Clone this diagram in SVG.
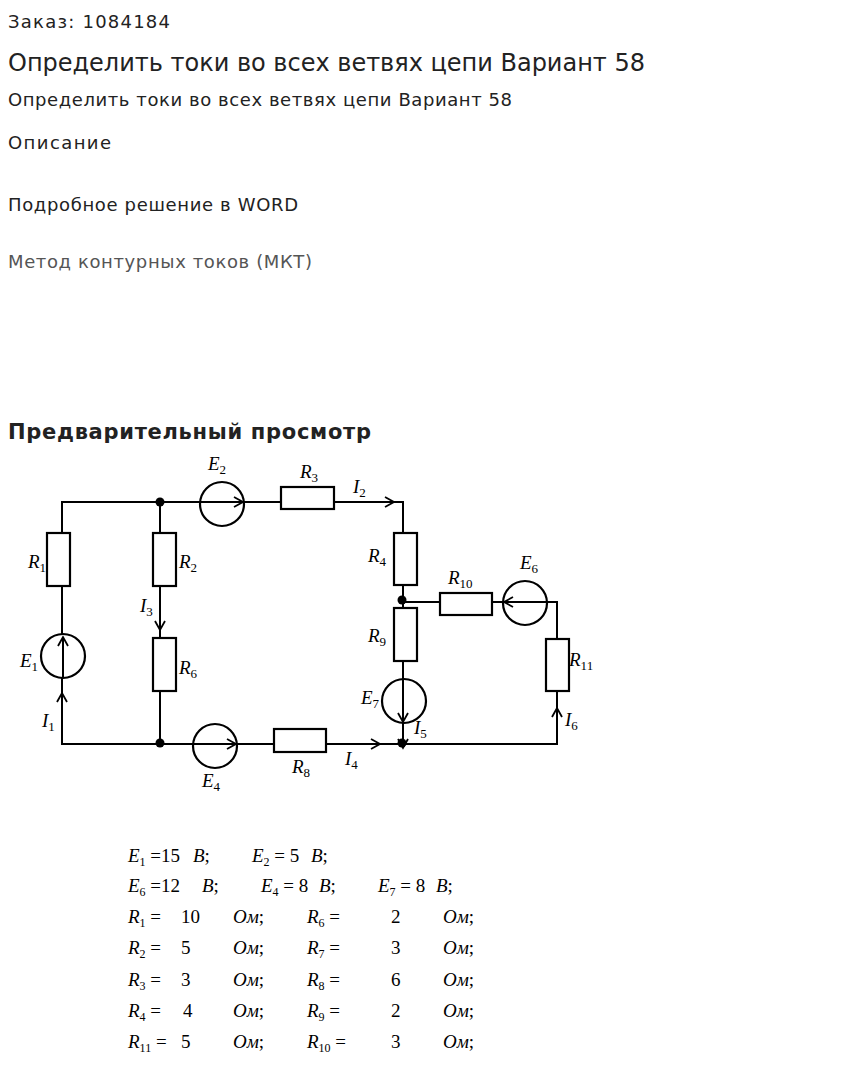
<svg xmlns="http://www.w3.org/2000/svg" width="847" height="1070" viewBox="0 0 847 1070">
<style>
.h{font-family:"DejaVu Sans",sans-serif;fill:#222}
.w{stroke:#000;stroke-width:2;fill:none}
.r{stroke:#000;stroke-width:2.2;fill:#fff}
.l{font-family:"Liberation Serif",serif;font-style:italic;font-size:19px;fill:#000}
.l tspan{font-style:normal}
.t{font-family:"Liberation Serif",serif;font-size:19px;fill:#000}
.i{font-style:italic}
</style>
<defs>
<marker id="a" markerWidth="12" markerHeight="12" refX="10" refY="6" orient="auto" markerUnits="userSpaceOnUse"><path d="M1,1 L10,6 L1,11" fill="none" stroke="#000" stroke-width="1.8"/></marker>
</defs>
<rect width="847" height="1070" fill="#fff"/>
<text class="h" x="8" y="28" font-size="18" textLength="162" lengthAdjust="spacing">Заказ: 1084184</text>
<text class="h" x="8" y="71" font-size="24" textLength="637" lengthAdjust="spacing">Определить токи во всех ветвях цепи Вариант 58</text>
<text class="h" x="8" y="106" font-size="18" textLength="504" lengthAdjust="spacing">Определить токи во всех ветвях цепи Вариант 58</text>
<text class="h" x="8" y="149" font-size="18" textLength="103" lengthAdjust="spacing">Описание</text>
<text class="h" x="8" y="211" font-size="18" textLength="290" lengthAdjust="spacing">Подробное решение в WORD</text>
<text class="h" x="8" y="268" font-size="18" style="fill:#555" textLength="304" lengthAdjust="spacing">Метод контурных токов (МКТ)</text>
<text class="h" x="8" y="439" font-size="21" font-weight="bold" textLength="363" lengthAdjust="spacing">Предварительный просмотр</text>

<g id="connectors">
<path class="w" d="M62,586 V744 H557 V691 M557,639 V602 H492 M440,602 H402 M62,533 V502 H403 V533 M403,585 V608 M403,661 V744 M160,502 V533 M160,586 V638 M160,691 V744"/>
<path class="w" d="M62,744 V693" marker-end="url(#a)"/>
<path class="w" d="M160,600 V630" marker-end="url(#a)"/>
<path class="w" d="M350,502 H394" marker-end="url(#a)"/>
<path class="w" d="M340,744 H380" marker-end="url(#a)"/>
<path class="w" d="M557,740 V708" marker-end="url(#a)"/>
<path class="w" d="M403,725 V748" marker-end="url(#a)"/>
<circle cx="160" cy="502" r="4.5"/><circle cx="160" cy="743" r="4.5"/><circle cx="402" cy="600" r="4.5"/><circle cx="402" cy="743" r="4.5"/>
</g>
<g id="R1"><rect class="r" x="47" y="533" width="23" height="53"/><text class="l" x="28" y="568">R<tspan font-size="13" dy="4">1</tspan></text></g>
<g id="R2"><rect class="r" x="153" y="533" width="23" height="53"/><text class="l" x="179" y="568">R<tspan font-size="13" dy="4">2</tspan></text></g>
<g id="R6"><rect class="r" x="153" y="638" width="23" height="53"/><text class="l" x="179" y="674">R<tspan font-size="13" dy="4">6</tspan></text></g>
<g id="R3"><rect class="r" x="281" y="487" width="53" height="22"/><text class="l" x="300" y="478">R<tspan font-size="13" dy="4">3</tspan></text></g>
<g id="R4"><rect class="r" x="394" y="533" width="23" height="52"/><text class="l" x="368" y="562">R<tspan font-size="13" dy="4">4</tspan></text></g>
<g id="R9"><rect class="r" x="394" y="608" width="23" height="53"/><text class="l" x="368" y="642">R<tspan font-size="13" dy="4">9</tspan></text></g>
<g id="R10"><rect class="r" x="440" y="593" width="52" height="22"/><text class="l" x="448" y="584">R<tspan font-size="13" dy="4">10</tspan></text></g>
<g id="R11"><rect class="r" x="546" y="639" width="23" height="52"/><text class="l" x="569" y="666">R<tspan font-size="13" dy="4">11</tspan></text></g>
<g id="R8"><rect class="r" x="274" y="729" width="52" height="23"/><text class="l" x="292" y="773">R<tspan font-size="13" dy="4">8</tspan></text></g>
<g id="E1"><circle class="r" cx="63" cy="656" r="22"/><path class="w" d="M63,678 V637" marker-end="url(#a)"/><text class="l" x="20" y="667">E<tspan font-size="13" dy="4">1</tspan></text></g>
<g id="E2"><circle class="r" cx="222" cy="504" r="22"/><path class="w" d="M200,502 H243" marker-end="url(#a)"/><text class="l" x="208" y="470">E<tspan font-size="13" dy="4">2</tspan></text></g>
<g id="E4"><circle class="r" cx="215" cy="746" r="22"/><path class="w" d="M193,744 H236" marker-end="url(#a)"/><text class="l" x="202" y="787">E<tspan font-size="13" dy="4">4</tspan></text></g>
<g id="E6"><circle class="r" cx="525" cy="603" r="22"/><path class="w" d="M547,602 H504" marker-end="url(#a)"/><text class="l" x="520" y="569">E<tspan font-size="13" dy="4">6</tspan></text></g>
<g id="E7"><circle class="r" cx="404" cy="701" r="22"/><path class="w" d="M403,680 V722" marker-end="url(#a)"/><text class="l" x="361" y="704">E<tspan font-size="13" dy="4">7</tspan></text></g>
<g id="labels">
<text class="l" x="42" y="727">I<tspan font-size="13" dy="4">1</tspan></text>
<text class="l" x="353" y="493">I<tspan font-size="13" dy="4">2</tspan></text>
<text class="l" x="140" y="612">I<tspan font-size="13" dy="4">3</tspan></text>
<text class="l" x="345" y="765">I<tspan font-size="13" dy="4">4</tspan></text>
<text class="l" x="414" y="734">I<tspan font-size="13" dy="4">5</tspan></text>
<text class="l" x="565" y="726">I<tspan font-size="13" dy="4">6</tspan></text>
</g>
<g id="table" class="t">
<text x="128" y="862"><tspan class="i">E</tspan><tspan font-size="12" dy="4">1</tspan><tspan dy="-4"> =15</tspan></text><text x="193" y="862"><tspan class="i">B</tspan>;</text>
<text x="252" y="862"><tspan class="i">E</tspan><tspan font-size="12" dy="4">2</tspan><tspan dy="-4"> = 5</tspan></text><text x="311" y="862"><tspan class="i">B</tspan>;</text>
<text x="128" y="892"><tspan class="i">E</tspan><tspan font-size="12" dy="4">6</tspan><tspan dy="-4"> =12</tspan></text><text x="202" y="892"><tspan class="i">B</tspan>;</text>
<text x="261" y="892"><tspan class="i">E</tspan><tspan font-size="12" dy="4">4</tspan><tspan dy="-4"> = 8</tspan></text><text x="319" y="892"><tspan class="i">B</tspan>;</text>
<text x="378" y="892"><tspan class="i">E</tspan><tspan font-size="12" dy="4">7</tspan><tspan dy="-4"> = 8</tspan></text><text x="436" y="892"><tspan class="i">B</tspan>;</text>
<text x="128" y="923"><tspan class="i">R</tspan><tspan font-size="12" dy="4">1</tspan><tspan dy="-4"> =</tspan></text><text x="181" y="923">10</text><text x="233" y="923"><tspan class="i">Ом</tspan>;</text>
<text x="307" y="923"><tspan class="i">R</tspan><tspan font-size="12" dy="4">6</tspan><tspan dy="-4"> =</tspan></text><text x="391" y="923">2</text><text x="443" y="923"><tspan class="i">Ом</tspan>;</text>
<text x="128" y="954"><tspan class="i">R</tspan><tspan font-size="12" dy="4">2</tspan><tspan dy="-4"> =</tspan></text><text x="181" y="954">5</text><text x="233" y="954"><tspan class="i">Ом</tspan>;</text>
<text x="307" y="954"><tspan class="i">R</tspan><tspan font-size="12" dy="4">7</tspan><tspan dy="-4"> =</tspan></text><text x="391" y="954">3</text><text x="443" y="954"><tspan class="i">Ом</tspan>;</text>
<text x="128" y="986"><tspan class="i">R</tspan><tspan font-size="12" dy="4">3</tspan><tspan dy="-4"> =</tspan></text><text x="181" y="986">3</text><text x="233" y="986"><tspan class="i">Ом</tspan>;</text>
<text x="307" y="986"><tspan class="i">R</tspan><tspan font-size="12" dy="4">8</tspan><tspan dy="-4"> =</tspan></text><text x="391" y="986">6</text><text x="443" y="986"><tspan class="i">Ом</tspan>;</text>
<text x="128" y="1017"><tspan class="i">R</tspan><tspan font-size="12" dy="4">4</tspan><tspan dy="-4"> =</tspan></text><text x="183" y="1017">4</text><text x="233" y="1017"><tspan class="i">Ом</tspan>;</text>
<text x="307" y="1017"><tspan class="i">R</tspan><tspan font-size="12" dy="4">9</tspan><tspan dy="-4"> =</tspan></text><text x="391" y="1017">2</text><text x="443" y="1017"><tspan class="i">Ом</tspan>;</text>
<text x="128" y="1048"><tspan class="i">R</tspan><tspan font-size="12" dy="4">11</tspan><tspan dy="-4"> =</tspan></text><text x="181" y="1048">5</text><text x="233" y="1048"><tspan class="i">Ом</tspan>;</text>
<text x="307" y="1048"><tspan class="i">R</tspan><tspan font-size="12" dy="4">10</tspan><tspan dy="-4"> =</tspan></text><text x="391" y="1048">3</text><text x="443" y="1048"><tspan class="i">Ом</tspan>;</text>
</g>
</svg>
